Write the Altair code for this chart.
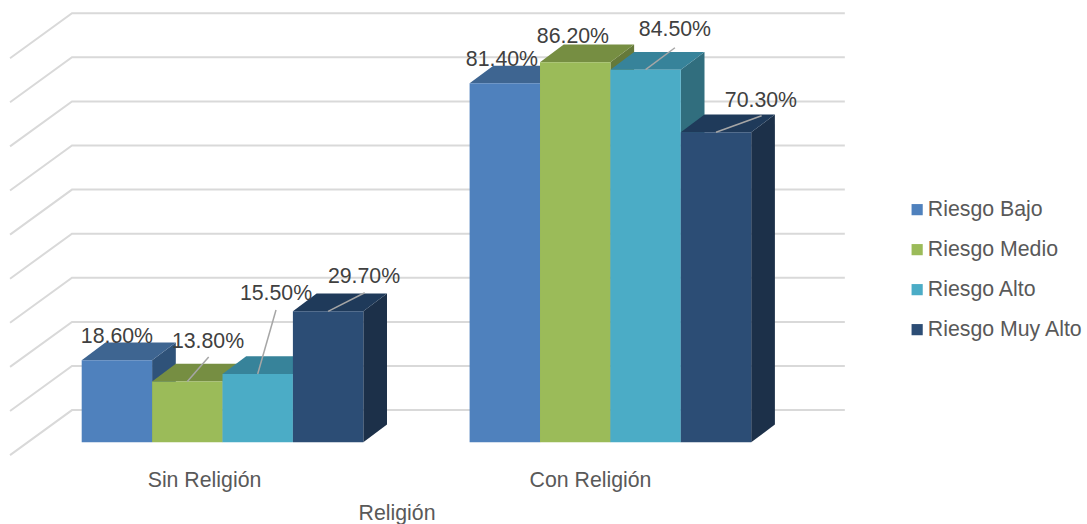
import altair as alt
import pandas as pd

# Chart values
groups = ["Sin Religión", "Con Religión"]
series = ["Riesgo Bajo", "Riesgo Medio", "Riesgo Alto", "Riesgo Muy Alto"]
values = {
    "Riesgo Bajo": [18.6, 81.4],
    "Riesgo Medio": [13.8, 86.2],
    "Riesgo Alto": [15.5, 84.5],
    "Riesgo Muy Alto": [29.7, 70.3],
}
axis_title = "Religión"
grid_levels = [10, 20, 30, 40, 50, 60, 70, 80, 90, 100]

# Face colours per series: front, top, side
front_colors = ["#4F81BD", "#9BBB59", "#4BACC6", "#2C4D75"]
top_colors = ["#3E6591", "#768E42", "#37839A", "#1F3A5A"]
side_colors = ["#2F5279", "#65793A", "#316E7E", "#1C3049"]

# Layout: canvas size and scale factors (x unit = one bar width, y unit = one percent)
W, H = 1087, 524
BAR_PX = 70.4
PCT_PX = 4.41
X_ORIGIN = 81.7
Y_ORIGIN = 442.3
x_dom = [-X_ORIGIN / BAR_PX, (W - X_ORIGIN) / BAR_PX]
y_dom = [(Y_ORIGIN - H) / PCT_PX, Y_ORIGIN / PCT_PX]
group_start = [0.0, 5.51]
DEPTH_X = 23.7 / BAR_PX
DEPTH_Y = 17.7 / PCT_PX

x_scale = alt.Scale(domain=x_dom, range=[0, W], nice=False, zero=False)
y_scale = alt.Scale(domain=y_dom, range=[H, 0], nice=False, zero=False)


def X(name):
    return alt.X(name, type="quantitative", scale=x_scale, axis=None, title=None)


def Y(name):
    return alt.Y(name, type="quantitative", scale=y_scale, axis=None, title=None, stack=None)


FONT = "Liberation Sans"
TEXT_SIZE = 21.3
layers = []

# Receding grid lines: floor edge, up to the back wall, then across it
WALL_X, LEFT_X, RIGHT_X = -0.138, -1.018, 10.84
WALL_SHIFT, DIAG_DROP = -2.7, 10.2
grid_rows = []
for lv in grid_levels:
    back = lv + WALL_SHIFT
    grid_rows += [
        {"lv": lv, "k": 0, "x": LEFT_X, "y": back - DIAG_DROP},
        {"lv": lv, "k": 1, "x": WALL_X, "y": back},
        {"lv": lv, "k": 2, "x": RIGHT_X, "y": back},
    ]
layers.append(
    alt.Chart(pd.DataFrame(grid_rows))
    .mark_line(color="#D9D9D9", strokeWidth=2)
    .encode(x=X("x"), y=Y("y"), detail="lv:N", order="k:Q")
)

# Each series is drawn side, top, then front, left to right, so nearer faces cover farther ones
for i, s in enumerate(series):
    side, top, front = [], [], []
    for g, start in enumerate(group_start):
        v = values[s][g]
        left, right = start + i, start + i + 1
        side += [
            {"g": g, "x": right, "y": 0, "y2": v},
            {"g": g, "x": right + DEPTH_X, "y": DEPTH_Y, "y2": v + DEPTH_Y},
        ]
        top += [
            {"g": g, "y": v, "x": left, "x2": right},
            {"g": g, "y": v + DEPTH_Y, "x": left + DEPTH_X, "x2": right + DEPTH_X},
        ]
        front.append({"series": s, "x": left, "x2": right, "y": 0, "y2": v})
    layers.append(
        alt.Chart(pd.DataFrame(side))
        .mark_area(color=side_colors[i], orient="vertical")
        .encode(x=X("x"), y=Y("y"), y2="y2:Q", detail="g:N")
    )
    layers.append(
        alt.Chart(pd.DataFrame(top))
        .mark_area(color=top_colors[i], orient="horizontal")
        .encode(
            y=Y("y"),
            x=alt.X("x", type="quantitative", scale=x_scale, axis=None, title=None, stack=None),
            x2="x2:Q",
            detail="g:N",
        )
    )
    layers.append(
        alt.Chart(pd.DataFrame(front))
        .mark_bar()
        .encode(
            x=X("x"),
            x2="x2:Q",
            y=Y("y"),
            y2="y2:Q",
            color=alt.Color(
                "series:N",
                scale=alt.Scale(domain=series, range=front_colors),
                legend=alt.Legend(
                    orient="none",
                    legendX=906.5,
                    legendY=199,
                    title=None,
                    symbolType="square",
                    symbolSize=125,
                    symbolStrokeWidth=0,
                    labelFont=FONT,
                    labelFontSize=TEXT_SIZE,
                    labelColor="#595959",
                    labelOffset=0,
                    rowPadding=18,
                    padding=0,
                ),
            ),
        )
    )

# Value labels placed off the bars (pixel offsets), some tied back with leader lines
label_offsets = {
    (0, 0): (0, -23.3),
    (0, 1): (20.7, -39.4),
    (0, 2): (18.3, -79.9),
    (0, 3): (35.9, -34.3),
    (1, 0): (-2.9, -23.3),
    (1, 1): (-2.3, -25.2),
    (1, 2): (29.3, -39.6),
    (1, 3): (44.9, -31.3),
}
leader_ends = {
    (0, 1): (21.4, -24.4),
    (0, 2): (18.3, -63.9),
    (0, 3): (36.6, -18.6),
    (1, 2): (29.3, -21.9),
    (1, 3): (45.6, -16.6),
}
label_rows, leader_rows = [], []
for g, start in enumerate(group_start):
    for i, s in enumerate(series):
        v = values[s][g]
        cx = start + i + 0.5
        dx, dy = label_offsets[(g, i)]
        label_rows.append(
            {"x": cx + dx / BAR_PX, "y": v - dy / PCT_PX, "text": f"{v:.2f}%"}
        )
        if (g, i) in leader_ends:
            ex, ey = leader_ends[(g, i)]
            leader_rows.append(
                {"x": cx, "y": v, "x2": cx + ex / BAR_PX, "y2": v - ey / PCT_PX}
            )

layers.append(
    alt.Chart(pd.DataFrame(leader_rows))
    .mark_rule(color="#A6A6A6", strokeWidth=1.5)
    .encode(x=X("x"), y=Y("y"), x2="x2:Q", y2="y2:Q")
)
layers.append(
    alt.Chart(pd.DataFrame(label_rows))
    .mark_text(font=FONT, fontSize=TEXT_SIZE, color="#404040", baseline="middle", align="center")
    .encode(x=X("x"), y=Y("y"), text="text:N")
)

# Category labels and axis title
axis_rows = [
    {"x": (204.5 - X_ORIGIN) / BAR_PX, "y": (Y_ORIGIN - 481) / PCT_PX, "text": groups[0]},
    {"x": (590.5 - X_ORIGIN) / BAR_PX, "y": (Y_ORIGIN - 481) / PCT_PX, "text": groups[1]},
    {"x": (397 - X_ORIGIN) / BAR_PX, "y": (Y_ORIGIN - 514) / PCT_PX, "text": axis_title},
]
layers.append(
    alt.Chart(pd.DataFrame(axis_rows))
    .mark_text(font=FONT, fontSize=TEXT_SIZE, color="#595959", baseline="middle", align="center")
    .encode(x=X("x"), y=Y("y"), text="text:N")
)

chart = (
    alt.layer(*layers)
    .properties(
        width=W,
        height=H,
        padding=0,
        background="white",
        autosize=alt.AutoSizeParams(type="none"),
    )
    .configure_view(stroke=None)
)

chart.save("out.html", embed_options={"renderer": "svg", "actions": False})
